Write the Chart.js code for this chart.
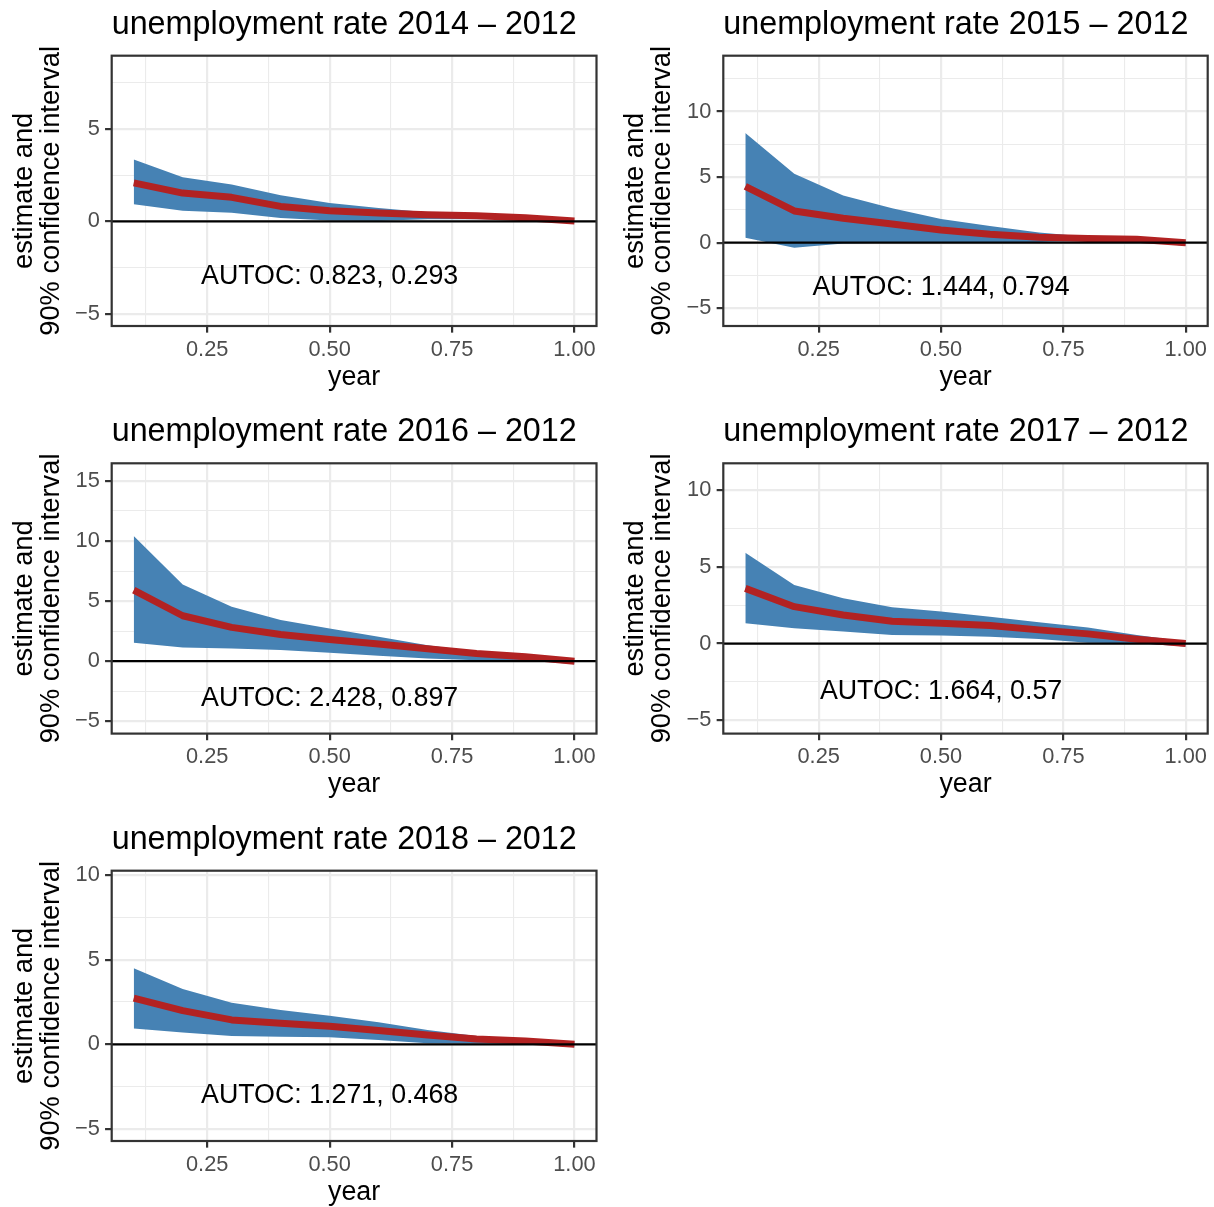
<!DOCTYPE html>
<html>
<head>
<meta charset="utf-8">
<script src="https://cdn.jsdelivr.net/npm/chart.js@4.4.1/dist/chart.umd.min.js"></script>
<style>
  html, body { margin: 0; padding: 0; background: #fff; overflow: hidden; }
  #page { position: relative; width: 1214px; height: 1207px; background: #fff; }
  #page canvas { position: absolute; }
</style>
</head>
<body>
<div id="page"></div>
<script>
// x axis: share of the year
const yearShare = [0.1, 0.2, 0.3, 0.4, 0.5, 0.6, 0.7, 0.8, 0.9, 1.0];
const xBreaks = [0.25, 0.5, 0.75, 1.0];
const xMinorBreaks = [0.125, 0.375, 0.625, 0.875];
const xLimits = [0.055, 1.045];

const panelYears = [2014, 2015, 2016, 2017, 2018];
const baseYear = 2012;

// estimate + 90% band, one set per comparison year
const est2014   = [2.08, 1.53, 1.30, 0.81, 0.58, 0.45, 0.36, 0.30, 0.20, 0.02];
const upper2014 = [3.34, 2.38, 1.99, 1.41, 0.99, 0.72, 0.50, 0.40, 0.27, 0.10];
const lower2014 = [0.92, 0.58, 0.47, 0.18, 0.05, 0.04, 0.12, 0.12, 0.10, -0.10];

const est2015   = [4.29, 2.42, 1.86, 1.43, 0.97, 0.64, 0.41, 0.33, 0.26, 0.00];
const upper2015 = [8.37, 5.26, 3.60, 2.63, 1.81, 1.28, 0.77, 0.46, 0.30, 0.15];
const lower2015 = [0.38, -0.38, -0.05, 0.00, 0.05, 0.05, 0.05, 0.15, 0.15, -0.25];

const est2016   = [5.92, 3.78, 2.81, 2.22, 1.81, 1.42, 1.03, 0.64, 0.36, 0.00];
const upper2016 = [10.42, 6.39, 4.53, 3.42, 2.72, 2.03, 1.33, 0.78, 0.42, 0.14];
const lower2016 = [1.53, 1.14, 1.06, 0.92, 0.69, 0.44, 0.22, 0.08, 0.10, -0.25];

const est2017   = [3.59, 2.40, 1.86, 1.45, 1.32, 1.17, 0.89, 0.63, 0.28, 0.00];
const upper2017 = [5.91, 3.81, 2.94, 2.36, 2.08, 1.75, 1.39, 1.04, 0.56, 0.13];
const lower2017 = [1.32, 1.00, 0.78, 0.56, 0.52, 0.45, 0.30, 0.06, 0.02, -0.20];

const est2018   = [2.72, 1.99, 1.44, 1.24, 1.06, 0.81, 0.55, 0.31, 0.20, 0.00];
const upper2018 = [4.49, 3.27, 2.46, 2.03, 1.69, 1.30, 0.85, 0.49, 0.22, 0.16];
const lower2018 = [0.94, 0.69, 0.49, 0.45, 0.41, 0.26, 0.06, 0.05, 0.05, -0.18];

const estimates = [est2014, est2015, est2016, est2017, est2018];
const uppers = [upper2014, upper2015, upper2016, upper2017, upper2018];
const lowers = [lower2014, lower2015, lower2016, lower2017, lower2018];

// AUTOC estimate and its standard error, printed inside each panel
const autocEstimate = [0.823, 1.444, 2.428, 1.664, 1.271];
const autocSe = [0.293, 0.794, 0.897, 0.57, 0.468];
const autocLabelY = [-3.0, -3.4, -3.1, -3.1, -3.0];

// y axis limits and breaks per panel
const yLimits = [[-5.65, 8.95], [-6.35, 14.26], [-6.03, 16.47], [-5.86, 11.73], [-5.71, 10.25]];
const yBreaks = [[-5, 0, 5], [-5, 0, 5, 10], [-5, 0, 5, 10, 15], [-5, 0, 5, 10], [-5, 0, 5, 10]];

// page layout (2 columns, 3 rows)
const FONT = '"Liberation Sans", Arial, Helvetica, sans-serif';
const colLeft = [0, 607];
const yAxisWidth = [111.7, 116.3];
const yTitlePad = [10.4, 15.0];
const rightPad = [10.5, 6.3];
const rowTop = [0, 407, 815];
const topPad = [55.7, 56.3, 55.7];
const canvasW = 607, canvasH = 392, plotH = 270.3, xAxisH = 64.8;

const STEEL = '#4682B4';
const FIREBRICK = '#B22222';
const GRID = '#EBEBEB';
const DARK = '#333333';

function fmtY(v) {
    return v < 0 ? '\u2212' + Math.abs(v) : String(v);
}

function minorsFor(breaks, lim) {
    const out = [];
    for (let i = 0; i <= breaks.length; i++) {
        const lo = i === 0 ? breaks[0] - 5 : breaks[i - 1];
        const mid = lo + 2.5;
        if (mid > lim[0] && mid < lim[1]) out.push(mid);
    }
    return out;
}

function panelPlugin(i) {
    const title = `unemployment rate ${panelYears[i]} \u2013 ${baseYear}`;
    const label = `AUTOC: ${autocEstimate[i]}, ${autocSe[i]}`;
    return {
        id: 'panelDecor' + i,
        afterDatasetsDraw(chart) {
            const { ctx, chartArea: a, scales: { x, y } } = chart;
            ctx.save();
            // reference line at zero
            const y0 = y.getPixelForValue(0);
            ctx.beginPath();
            ctx.moveTo(a.left, y0);
            ctx.lineTo(a.right, y0);
            ctx.lineWidth = 2.2;
            ctx.strokeStyle = '#000';
            ctx.stroke();
            // AUTOC text
            ctx.fillStyle = '#000';
            ctx.font = `26.8px ${FONT}`;
            ctx.textAlign = 'center';
            ctx.textBaseline = 'middle';
            ctx.fillText(label, x.getPixelForValue(0.5), y.getPixelForValue(autocLabelY[i]));
            ctx.restore();
        },
        afterDraw(chart) {
            const { ctx, chartArea: a } = chart;
            ctx.save();
            ctx.lineWidth = 2.2;
            ctx.strokeStyle = DARK;
            ctx.strokeRect(a.left, a.top, a.right - a.left, a.bottom - a.top);
            ctx.fillStyle = '#000';
            ctx.font = `32.3px ${FONT}`;
            ctx.textAlign = 'left';
            ctx.textBaseline = 'alphabetic';
            ctx.fillText(title, a.left, a.top - 22.2);
            ctx.restore();
        }
    };
}

function buildPanel(i) {
    const col = i % 2, row = Math.floor(i / 2);
    const canvas = document.createElement('canvas');
    canvas.width = canvasW;
    canvas.height = canvasH;
    canvas.style.left = colLeft[col] + 'px';
    canvas.style.top = rowTop[row] + 'px';
    document.getElementById('page').appendChild(canvas);

    const pts = arr => yearShare.map((x, k) => ({ x: x, y: arr[k] }));
    const yMajor = yBreaks[i];
    const yMinor = minorsFor(yMajor, yLimits[i]);
    const yTicks = yMajor.concat(yMinor).sort((a, b) => a - b);
    const xTicks = xBreaks.concat(xMinorBreaks).sort((a, b) => a - b);
    const isMajorY = v => yMajor.includes(v);
    const isMajorX = v => xBreaks.includes(v);

    const gridFor = isMajor => ({
        color: GRID,
        lineWidth: c => (c.tick && isMajor(c.tick.value)) ? 2.2 : 1.1,
        tickColor: c => (c.tick && isMajor(c.tick.value)) ? DARK : 'rgba(0,0,0,0)',
        tickWidth: 2.2,
        tickLength: 6.65,
        drawTicks: true
    });

    new Chart(canvas, {
        type: 'line',
        data: {
            datasets: [
                {
                    label: 'estimate',
                    data: pts(estimates[i]),
                    borderColor: FIREBRICK,
                    borderWidth: 7,
                    borderCapStyle: 'butt',
                    borderJoinStyle: 'round',
                    pointRadius: 0,
                    fill: false,
                    tension: 0,
                    order: 0
                },
                {
                    label: 'upper',
                    data: pts(uppers[i]),
                    borderColor: 'rgba(0,0,0,0)',
                    borderWidth: 0,
                    backgroundColor: STEEL,
                    pointRadius: 0,
                    fill: '+1',
                    tension: 0,
                    order: 1
                },
                {
                    label: 'lower',
                    data: pts(lowers[i]),
                    borderColor: 'rgba(0,0,0,0)',
                    borderWidth: 0,
                    pointRadius: 0,
                    fill: false,
                    tension: 0,
                    order: 2
                }
            ]
        },
        options: {
            responsive: false,
            animation: false,
            events: [],
            layout: {
                padding: {
                    left: 0,
                    top: topPad[row],
                    right: rightPad[col],
                    bottom: canvasH - topPad[row] - plotH - xAxisH
                }
            },
            plugins: { legend: { display: false }, tooltip: { enabled: false } },
            scales: {
                x: {
                    type: 'linear',
                    min: xLimits[0],
                    max: xLimits[1],
                    afterBuildTicks: s => { s.ticks = xTicks.map(v => ({ value: v })); },
                    afterFit: s => { s.height = xAxisH; },
                    border: { display: false },
                    grid: gridFor(isMajorX),
                    ticks: {
                        autoSkip: false,
                        maxRotation: 0,
                        minRotation: 0,
                        padding: 3.8,
                        color: '#4D4D4D',
                        font: { family: FONT, size: 21.8 },
                        callback: v => isMajorX(v) ? v.toFixed(2) : ''
                    },
                    title: {
                        display: true,
                        text: 'year',
                        color: '#000',
                        padding: { top: 0, bottom: 0 },
                        font: { family: FONT, size: 26.8, lineHeight: 1 }
                    }
                },
                y: {
                    type: 'linear',
                    min: yLimits[i][0],
                    max: yLimits[i][1],
                    afterBuildTicks: s => { s.ticks = yTicks.map(v => ({ value: v })); },
                    afterFit: s => { s.width = yAxisWidth[col]; },
                    border: { display: false },
                    grid: gridFor(isMajorY),
                    ticks: {
                        autoSkip: false,
                        padding: 5.3,
                        color: '#4D4D4D',
                        font: { family: FONT, size: 21.8 },
                        callback: v => isMajorY(v) ? fmtY(v) : ''
                    },
                    title: {
                        display: true,
                        text: ['estimate and', '90% confidence interval'],
                        color: '#000',
                        padding: { top: yTitlePad[col], bottom: 0 },
                        font: { family: FONT, size: 27.3, lineHeight: 1 }
                    }
                }
            }
        },
        plugins: [panelPlugin(i)]
    });
}

for (let i = 0; i < panelYears.length; i++) buildPanel(i);
</script>
</body>
</html>
